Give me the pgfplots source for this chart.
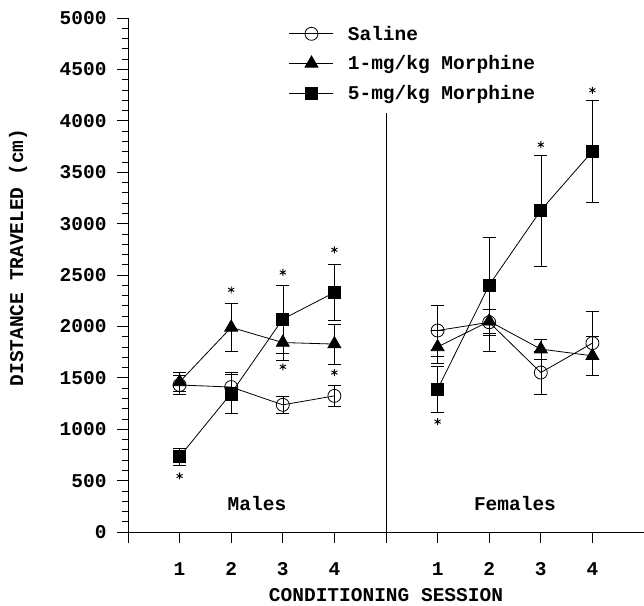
\documentclass[border=0pt]{standalone}
\usepackage{pgfplots}
\pgfplotsset{compat=1.18}
\usepackage{fontspec}
\setmainfont{Liberation Mono}
\begin{document}
\begin{tikzpicture}[font=\fontsize{19.5}{22}\selectfont\bfseries]
\begin{axis}[
  scale only axis, width=516pt, height=514pt,
  at={(0pt,0pt)}, anchor=south west,
  xmin=0, xmax=10, ymin=0, ymax=5000,
  axis lines*=left,
  axis line style={line width=0.8pt},
  xtick={1,2,3,4,6,7,8,9},
  xticklabels={1,2,3,4,1,2,3,4},
  extra x ticks={0,5}, extra x tick labels={},
  ytick={0,500,...,5000},
  minor y tick num=4,
  tick align=outside,
  major tick length=11pt, minor tick length=6pt,
  tick style={line width=0.7pt, black},
  /pgf/number format/assume math mode=true,
  /pgf/number format/1000 sep={},
  yticklabel style={xshift=-7pt},
  xticklabel style={yshift=-16pt},
  xlabel={CONDITIONING SESSION},
  xlabel style={at={(axis description cs:0.5,-0.123)}, anchor=center},
  ylabel={DISTANCE TRAVELED (cm)},
  ylabel style={at={(axis description cs:-0.2132,0.534)}, anchor=center},
  clip=false,
  legend style={draw=none, fill=none, at={(axis cs:3.06,4963)}, anchor=north west, row sep=10pt, font=\fontsize{19.5}{22}\selectfont\bfseries},
  legend cell align=left,
  legend image code/.code={\draw[#1, mark repeat=2, mark phase=2] plot coordinates {(0pt,0pt) (22pt,0pt) (44pt,0pt)}; \path (56pt,0pt);},
  every axis plot/.append style={line width=0.8pt, black},
  error bars/error bar style={line width=0.6pt, black},
  error bars/error mark options={line width=0.6pt, mark size=6.5pt, rotate=90},
]
% Saline males
\addplot[mark=o, mark size=6.5pt, mark options={fill=white}, error bars/.cd, y dir=both, y explicit]
  coordinates {(1,1430) +- (0,90) (2,1410) +- (0,125) (3,1237) +- (0,80) (4,1324) +- (0,100)};
\addlegendentry{Saline}
% 1 mg males
\addplot[mark=triangle*, mark size=7.5pt, error bars/.cd, y dir=both, y explicit]
  coordinates {(1,1460) +- (0,95) (2,1990) +- (0,230) (3,1843) +- (0,170) (4,1828) +- (0,195)};
\addlegendentry{1-mg/kg Morphine}
% 5 mg males
\addplot[mark=square*, mark size=6pt, error bars/.cd, y dir=both, y explicit]
  coordinates {(1,733) +- (0,80) (2,1350) +- (0,200) (3,2071) +- (0,330) (4,2330) +- (0,270)};
\addlegendentry{5-mg/kg Morphine}
% Females
\addplot[forget plot, mark=o, mark size=6.5pt, mark options={fill=white}, error bars/.cd, y dir=both, y explicit]
  coordinates {(6,1960) +- (0,250) (7,2040) +- (0,130) (8,1551) +- (0,210) (9,1837) +- (0,310)};
\addplot[forget plot, mark=triangle*, mark size=7.5pt, error bars/.cd, y dir=both, y explicit]
  coordinates {(6,1800) +- (0,160) (7,2050) +- (0,290) (8,1779) +- (0,100) (9,1714) +- (0,185)};
\addplot[forget plot, mark=square*, mark size=6pt, error bars/.cd, y dir=both, y explicit]
  coordinates {(6,1389) +- (0,225) (7,2402) +- (0,465) (8,3129) +- (0,540) (9,3703) +- (0,495)};
% significance stars
\addplot[forget plot, only marks, mark=asterisk, mark size=3.5pt, line width=0.9pt]
  coordinates {(1,545) (2,2356) (3,2525) (3,1607) (4,2745) (4,1551) (6,1074) (8,3768) (9,4297)};
% divider
\draw[line width=0.7pt] (axis cs:5,0) -- (axis cs:5,4080);
\node at (axis cs:2.5,280) {Males};
\node at (axis cs:7.5,280) {Females};
\end{axis}
\pgfresetboundingbox
\useasboundingbox (-128pt,-73pt) rectangle (516pt,532pt);
\end{tikzpicture}
\end{document}
